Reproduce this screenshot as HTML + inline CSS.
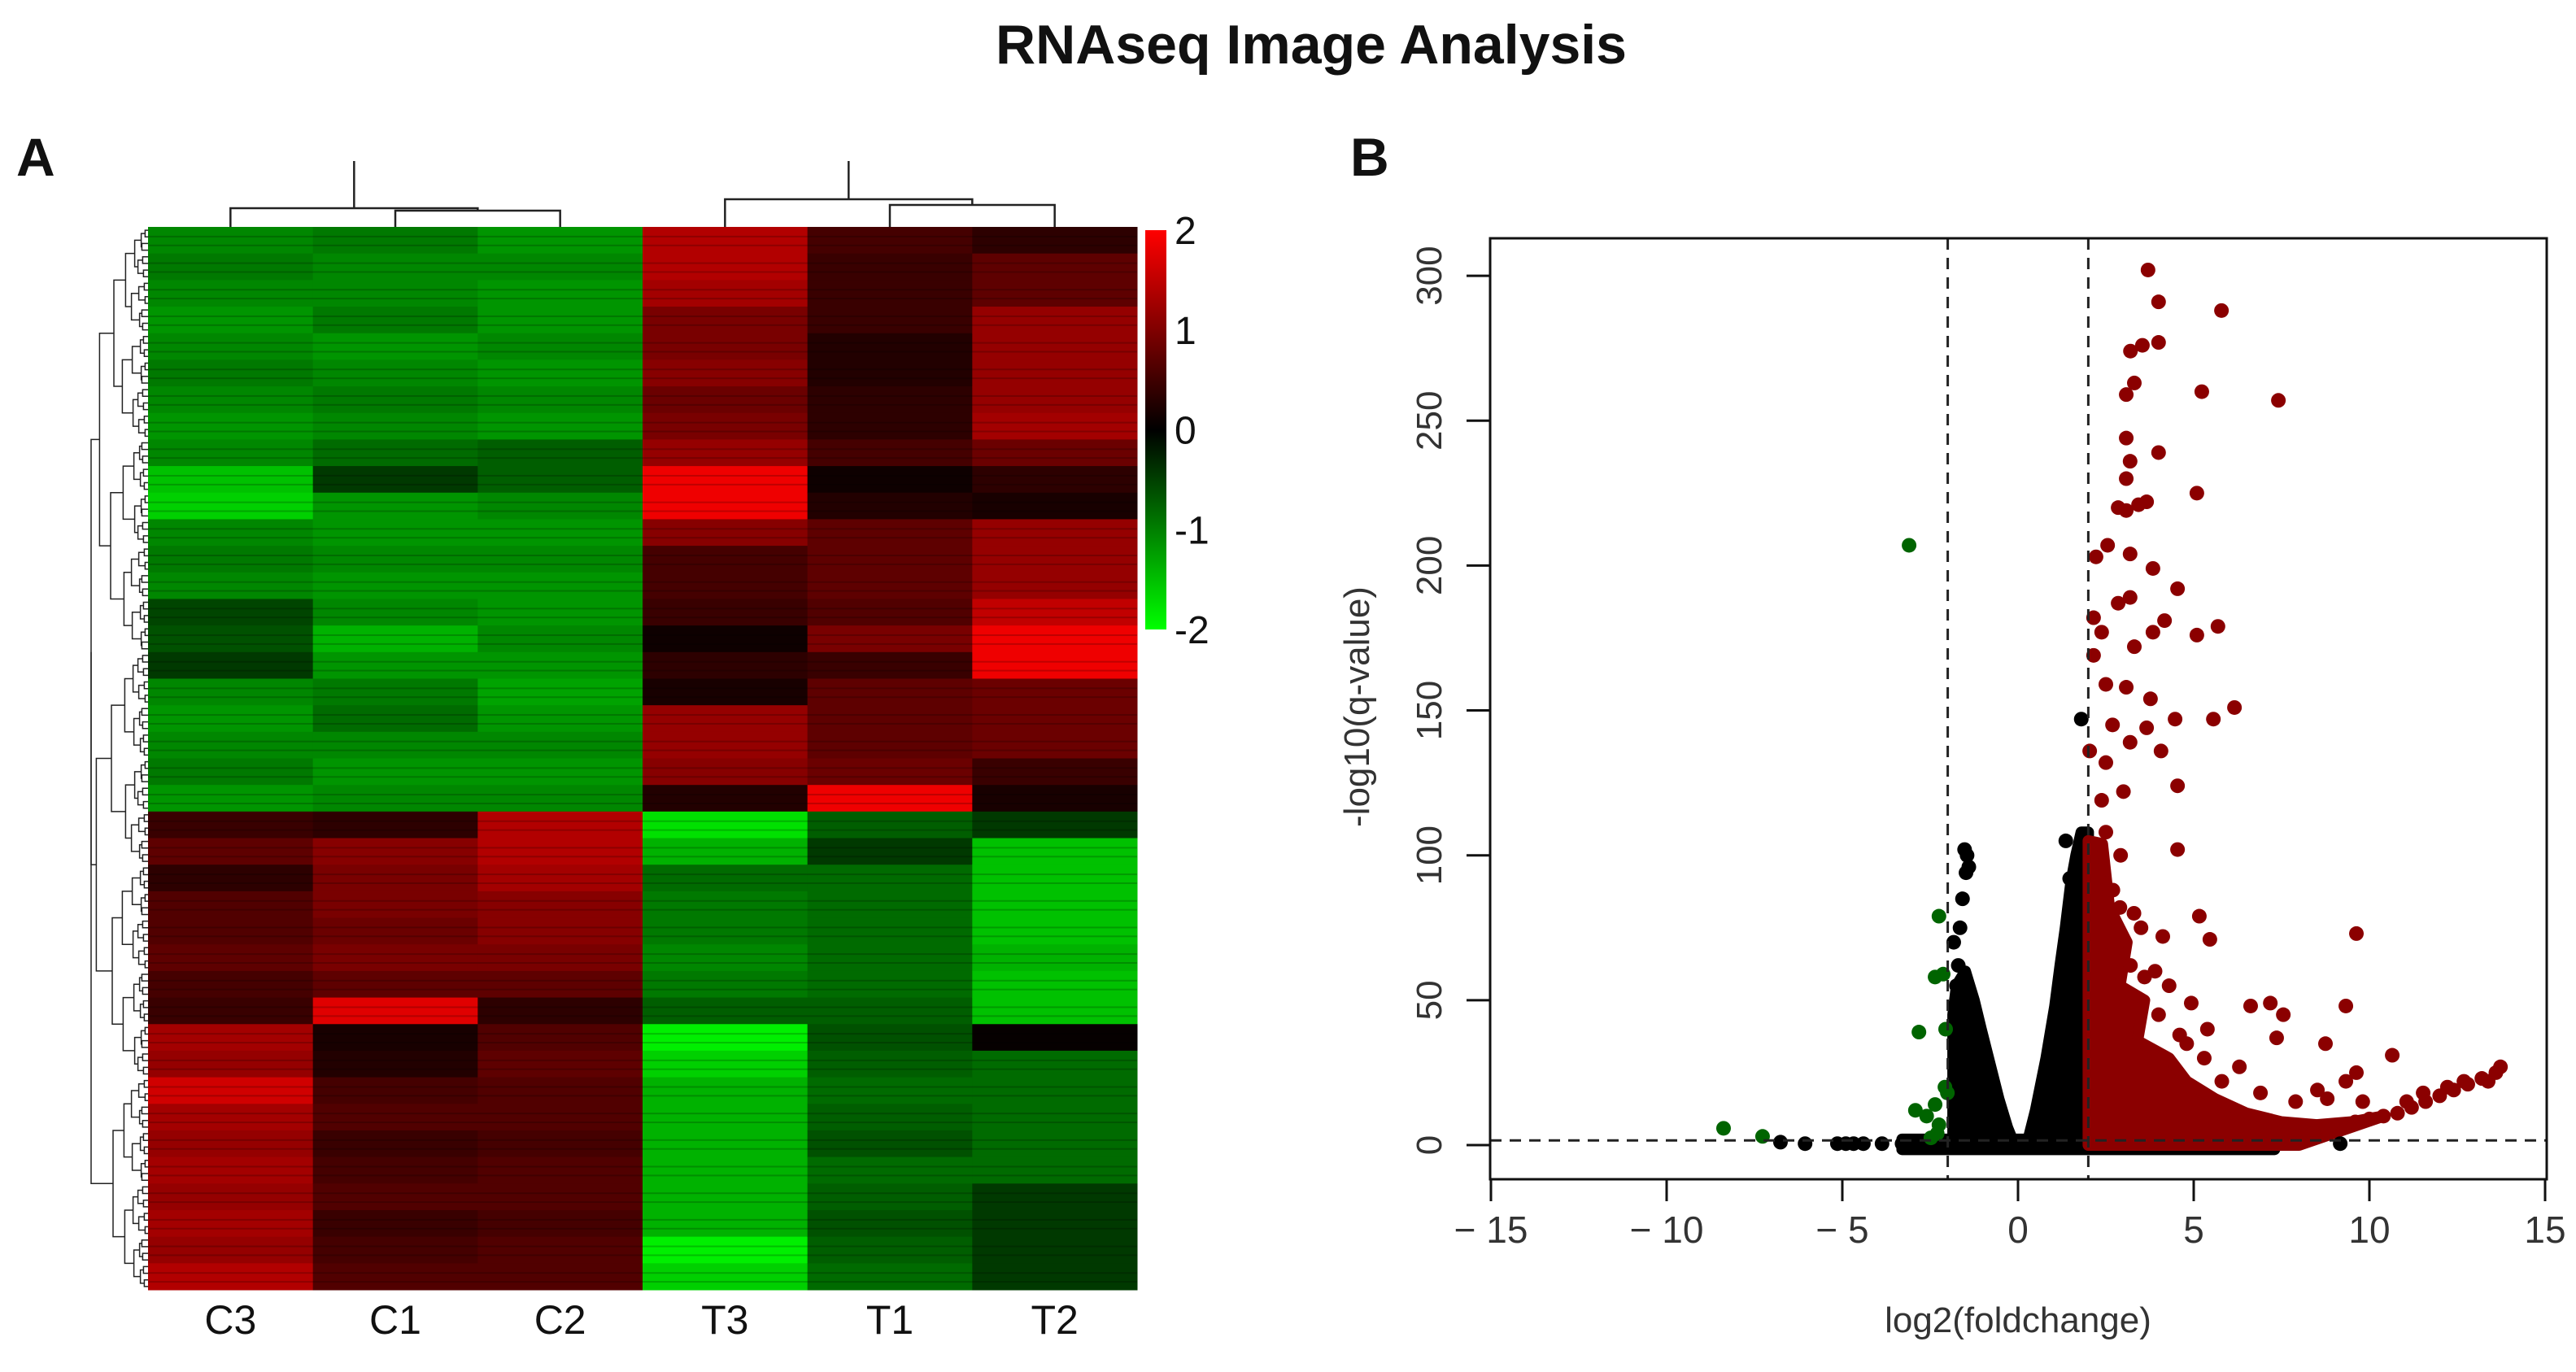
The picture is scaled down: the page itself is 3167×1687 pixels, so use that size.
<!DOCTYPE html>
<html><head><meta charset="utf-8"><style>
html,body{margin:0;padding:0;background:#fff;}
svg{display:block;font-family:"Liberation Sans",Arial,sans-serif;}
</style></head><body>
<svg id="fig" width="3167" height="1687" viewBox="0 0 3167 1687" xmlns="http://www.w3.org/2000/svg">
<text x="1612" y="78" font-size="68" font-weight="bold" text-anchor="middle" fill="#111">RNAseq Image Analysis</text>
<text x="20" y="216" font-size="66" font-weight="bold" fill="#111">A</text>
<text x="1660" y="216" font-size="66" font-weight="bold" fill="#111">B</text>
<g id="heat"></g>
<g id="volc"></g>
</svg>
<script>
// ---------- Heatmap data ----------
const samples = ["C3","C1","C2","T3","T1","T2"];
const colC3 = [-1.2,-1.1,-1.2,-1.3,-1.2,-1.1,-1.2,-1.3,-1.2,-1.6,-1.7,-1.2,-1.1,-1.2,-0.7,-0.8,-0.6,-1.2,-1.3,-1.2,-1.1,-1.3,
  0.6,0.9,0.5,0.8,0.8,0.9,0.7,0.6,1.4,1.3,1.7,1.4,1.3,1.4,1.3,1.4,1.3,1.5];
const colC1 = [-1.1,-1.2,-1.2,-1.1,-1.3,-1.2,-1.1,-1.2,-1.0,-0.6,-1.3,-1.3,-1.2,-1.3,-1.2,-1.5,-1.3,-1.1,-1.0,-1.2,-1.3,-1.2,
  0.5,1.2,1.1,1.1,1.0,1.1,0.9,1.8,0.3,0.4,0.7,0.8,0.6,0.7,0.8,0.6,0.7,0.8];
const colC2 = [-1.3,-1.2,-1.3,-1.3,-1.2,-1.3,-1.2,-1.3,-0.9,-0.9,-1.2,-1.3,-1.2,-1.3,-1.3,-1.2,-1.3,-1.4,-1.3,-1.2,-1.3,-1.2,
  1.5,1.5,1.4,1.2,1.2,1.1,0.9,0.5,0.8,0.9,0.8,0.8,0.7,0.8,0.8,0.7,0.8,0.8];
const colT3 = [1.5,1.5,1.4,1.1,1.1,1.2,1.0,1.1,1.3,1.9,1.9,1.2,0.7,0.7,0.6,0.2,0.5,0.3,1.3,1.3,1.2,0.4,
  -1.8,-1.5,-1.0,-1.1,-1.1,-1.2,-1.1,-0.9,-1.9,-1.7,-1.5,-1.5,-1.5,-1.5,-1.5,-1.5,-1.9,-1.7];
const colT1 = [0.7,0.6,0.6,0.6,0.4,0.4,0.5,0.5,0.7,0.2,0.4,0.9,0.9,0.9,0.8,1.1,0.6,0.9,0.9,0.9,1.0,1.9,
  -0.9,-0.6,-1.0,-1.0,-1.0,-1.0,-1.0,-0.9,-0.8,-0.9,-1.0,-0.9,-0.8,-1.0,-0.9,-0.8,-0.9,-1.0];
const colT2 = [0.5,0.9,0.9,1.3,1.3,1.3,1.3,1.4,1.0,0.5,0.3,1.3,1.3,1.3,1.6,1.9,1.9,1.0,1.0,1.0,0.6,0.3,
  -0.6,-1.6,-1.6,-1.6,-1.6,-1.5,-1.6,-1.6,0.1,-1.0,-1.0,-1.0,-1.0,-1.0,-0.6,-0.6,-0.6,-0.6];
const legendTicks = [2,1,0,-1,-2];

// ---------- Volcano data ----------
const upX = [3.70,4.0,5.79,4.0,3.54,3.2,5.23,7.41,3.31,3.08,4.0,3.08,3.19,3.08,5.09,3.66,3.43,2.85,3.08,2.55,2.22,3.19,3.84,4.54,3.19,2.85,2.15,4.17,2.38,5.69,5.09,3.84,3.31,2.15,2.5,3.08,3.77,6.16,5.56,4.47,3.66,2.69,4.07,3.19,2.04,2.5,4.54,3.0,2.38,4.54,2.5,2.92,5.16,5.46,9.63,4.12,6.62,7.18,7.55,9.33,4.93,5.39,8.75,10.65,7.36,9.63,9.33,9.81,8.52,13.73,13.38,12.69,12.22,11.53,11.06,2.4,2.7,3.3,2.2,3.5,2.8,3.9,4.3,2.6,3.2,4.0,4.6,5.3,6.3,6.9,5.8,7.9,8.8,4.8,3.6,2.9];
const upY = [302,291,288,277,276,274,260,257,263,259,239,244,236,230,225,222,221,220,219,207,203,204,199,192,189,187,182,181,177,179,176,177,172,169,159,158,154,151,147,147,144,145,136,139,136,132,124,122,119,102,108,100,79,71,73,72,48,49,45,48,49,40,35,31,37,25,22,15,19,27,22,22,20,18,15,95,88,80,90,75,68,60,55,70,62,45,38,30,27,18,22,15,16,35,58,82];
const tailX = [7.6,8.0,8.4,8.8,9.2,9.6,10.0,10.4,10.8,11.2,11.6,12.0,12.4,12.8,13.2,13.6];
const tailY = [2,3,4,5,7,8,9,10,11,13,15,17,19,21,23,25];
const downX = [-3.10,-2.25,-2.13,-2.36,-2.82,-2.06,-8.38,-7.27,-2.92,-2.36,-2.08,-2.25,-2.48,-2.01,-2.6,-2.3];
const downY = [207,79,59,58,39,40,5.8,3,12,14,20,7,2.5,18,10,4];
const nsX = [-1.52,-1.48,-1.58,-1.83,-1.45,-1.4,-1.7,1.8,1.36,1.47,1.55,-6.76,-6.06,-5.14,-4.68,-3.87,9.17,-4.9,-4.4,-3.3,-1.65,-1.75];
const nsY = [102,94,85,70,100,96,62,147,105,92,80,1,0.5,0.5,0.5,0.5,0.5,0.5,0.5,0.5,75,55];
// density envelopes (x,y in data units)
const leftCloudX = [-1.85,-1.85,-1.75,-1.5,-1.25,-1.05,-0.8,-0.55,-0.3,-0.1];
const leftCloudY = [0,45,55,60,50,40,28,16,6,0];
const rightCloudX = [0.25,0.5,0.8,1.05,1.2,1.35,1.5,1.65,1.8,2.0,2.0];
const rightCloudY = [0,12,30,48,62,75,90,100,108,108,0];
const redCloudX = [2.0,2.0,2.4,2.6,3.1,2.9,3.6,3.4,4.3,4.8,5.6,6.5,7.5,8.5,9.5,10.4,8.0];
const redCloudY = [0,105,104,82,70,55,50,36,30,22,16,11,8,7,8,10,0];
const bandX = [-3.3,7.3,7.3,-3.3];
const bandY = [-1.5,-1.5,2,2];
const xTicks = [-15,-10,-5,0,5,10,15];
const yTicks = [0,50,100,150,200,250,300];

const NS = "http://www.w3.org/2000/svg";
function mk(tag, attrs, parent){const e=document.createElementNS(NS,tag);for(const k in attrs)e.setAttribute(k,attrs[k]);parent.appendChild(e);return e;}

// ---------- Heatmap ----------
const heat = document.getElementById('heat');
const hx0=182, hx1=1398, hy0=279, hy1=1586;
const cols=[colC3,colC1,colC2,colT3,colT1,colT2];
const nRows=colC3.length, cw=(hx1-hx0)/samples.length, rh=(hy1-hy0)/nRows;
function colorOf(v){v=Math.max(-2,Math.min(2,v));const f=Math.pow(Math.abs(v)/2,1.25);if(v>=0){return 'rgb('+Math.round(255*f)+',0,0)';}return 'rgb(0,'+Math.round(255*f)+',0)';}
cols.forEach((col,ci)=>{
  col.forEach((v,ri)=>{
    const r=mk('rect',{x:hx0+ci*cw,y:hy0+ri*rh,width:cw+0.5,height:rh+0.5,fill:colorOf(v)},heat);
    
    
  });
  const t=mk('text',{x:hx0+(ci+0.5)*cw,y:1640,'font-size':50,'text-anchor':'middle',fill:'#111'},heat);
  t.textContent=samples[ci];
  
  
});
for(let i=0;i<nRows*3;i++){
  if(i%3!==0){const s=mk('rect',{x:hx0,y:hy0+i*rh/3,width:hx1-hx0,height:2,fill:'rgba(0,0,0,0.2)'},heat);
  
  }
}
const defs=mk('defs',{},heat);
const lg=mk('linearGradient',{id:'cg',x1:0,y1:0,x2:0,y2:1},defs);
mk('stop',{offset:'0','stop-color':'#ff0000'},lg);mk('stop',{offset:'0.5','stop-color':'#000'},lg);mk('stop',{offset:'1','stop-color':'#00ff00'},lg);
const lb=mk('rect',{x:1408,y:283,width:26,height:491,fill:'url(#cg)'},heat);


legendTicks.forEach(v=>{
  const y=283+(2-v)/4*491;
  const t=mk('text',{x:1444,y:y+17,'font-size':48,fill:'#111'},heat);
  t.textContent=String(v);
  
  
});
const dend=mk('g',{stroke:'#222','stroke-width':2.5,fill:'none'},heat);


function cx(i){return hx0+(i+0.5)*cw;}
function U(xa,xb,ya,yb,top){mk('path',{d:`M${xa},${ya}V${top}H${xb}V${yb}`},dend);}
U(cx(1),cx(2),hy0,hy0,259); U(cx(0),(cx(1)+cx(2))/2,hy0,259,256);
mk('path',{d:`M${(cx(0)+(cx(1)+cx(2))/2)/2},256V198`},dend);
U(cx(4),cx(5),hy0,hy0,252); U(cx(3),(cx(4)+cx(5))/2,hy0,252,245);
mk('path',{d:`M${(cx(3)+(cx(4)+cx(5))/2)/2},245V198`},dend);
const rd=mk('g',{stroke:'#222','stroke-width':1.5,fill:'none'},heat);


let nodes=[];const leaves=nRows*4;
for(let i=0;i<leaves;i++)nodes.push({y:hy0+(i+0.5)*(hy1-hy0)/leaves,x:hx0});
let lvl=0;
while(nodes.length>1){
  const nx=[];lvl++;
  for(let i=0;i<nodes.length;i+=2){
    if(i+1>=nodes.length){nx.push(nodes[i]);continue;}
    const a=nodes[i],b=nodes[i+1];const x=hx0-Math.min(70,lvl*lvl*1.6+2+((i*7)%5));
    mk('path',{d:`M${a.x},${a.y}H${x}V${b.y}H${b.x}`},rd);
    nx.push({x:x,y:(a.y+b.y)/2});
  }
  nodes=nx;
}

// ---------- Volcano ----------
const volc=document.getElementById('volc');
const bx0=1832,bx1=3131,by0=293,by1=1450;
function sx(v){return 2481+v*43.2;}
function sy(v){return 1408-v*3.563;}
function poly(xs,ys,fill,name){
  const p=mk('polygon',{points:xs.map((x,i)=>sx(x)+','+sy(ys[i])).join(' '),fill:fill,stroke:fill,'stroke-width':14,'stroke-linejoin':'round'},volc);
  
  
}
poly(bandX,bandY,'#000','ns-density-band');
poly(leftCloudX,leftCloudY,'#000','ns-cloud-left');
poly(rightCloudX,rightCloudY,'#000','ns-cloud-right');
poly(redCloudX,redCloudY,'#8b0000','up-density-cloud');
function dots(xs,ys,fill,name){
  xs.forEach((x,i)=>{
    const c=mk('circle',{cx:sx(x),cy:sy(ys[i]),r:9,fill:fill},volc);
    
    
  });
}
dots(nsX,nsY,'#000','ns-point');
dots(upX,upY,'#8b0000','up-point');
dots(tailX,tailY,'#8b0000','up-point');
dots(downX,downY,'#006400','down-point');
const th=mk('g',{stroke:'#222','stroke-width':3,'stroke-dasharray':'14,10',fill:'none'},volc);


mk('line',{x1:sx(-2),y1:by0,x2:sx(-2),y2:by1},th);
mk('line',{x1:sx(2),y1:by0,x2:sx(2),y2:by1},th);
mk('line',{x1:bx0,y1:sy(1.6),x2:bx1,y2:sy(1.6)},th);
const box=mk('rect',{x:bx0,y:by0,width:bx1-bx0,height:by1-by0,fill:'none',stroke:'#111','stroke-width':3},volc);


const ax=mk('g',{stroke:'#111','stroke-width':3},volc);
mk('line',{x1:sx(-15),y1:by1,x2:sx(15),y2:by1},ax);
mk('line',{x1:bx0,y1:sy(0),x2:bx0,y2:sy(300)},ax);
xTicks.forEach(v=>{
  mk('line',{x1:sx(v),y1:by1,x2:sx(v),y2:by1+27},ax);
  const t=mk('text',{x:sx(v),y:1528,'font-size':46,'text-anchor':'middle',fill:'#333'},volc);
  t.textContent=v<0?'\u2212 '+(-v):String(v);
  
  
});
yTicks.forEach(v=>{
  mk('line',{x1:bx0,y1:sy(v),x2:bx0-29,y2:sy(v)},ax);
  const t=mk('text',{x:0,y:0,'font-size':44,'text-anchor':'middle',fill:'#333',transform:`translate(1772,${sy(v)}) rotate(-90)`},volc);
  t.textContent=String(v);
  
  
});
const xl=mk('text',{x:2481,y:1638,'font-size':44,'text-anchor':'middle',fill:'#333'},volc);
xl.textContent='log2(foldchange)';


const yl=mk('text',{x:0,y:0,'font-size':44,'text-anchor':'middle',fill:'#333',transform:'translate(1683,869) rotate(-90)'},volc);
yl.textContent='-log10(q-value)';


</script>
</body></html>
